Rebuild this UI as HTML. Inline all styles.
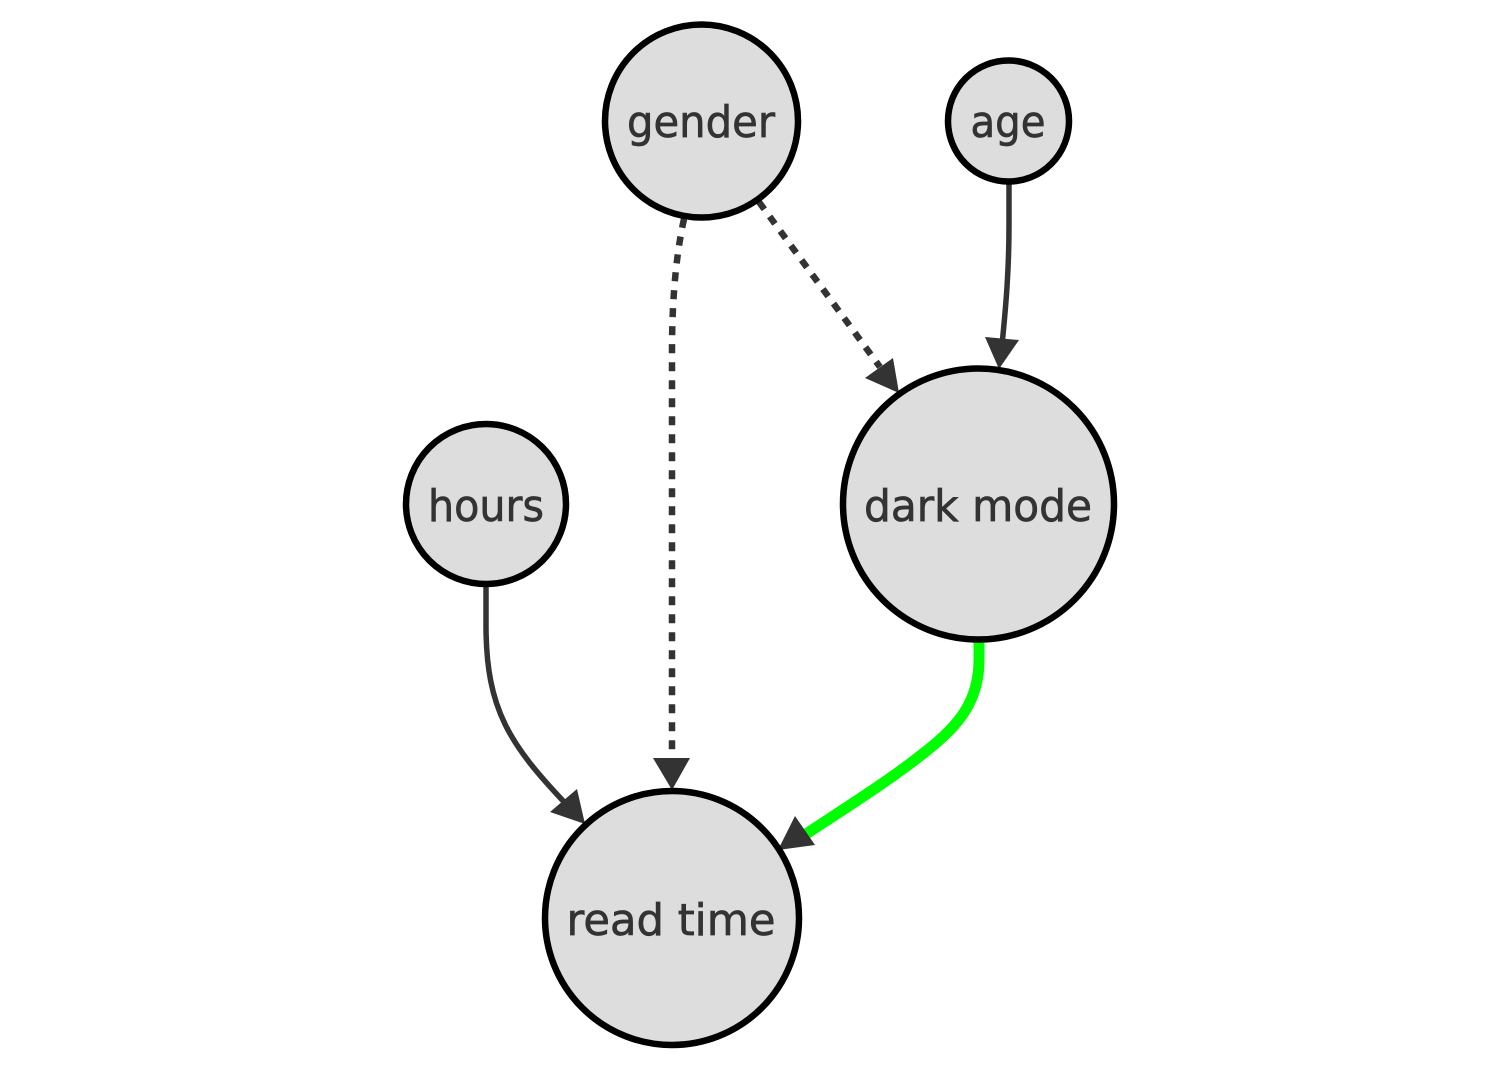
<!DOCTYPE html>
<html>
<head>
<meta charset="utf-8">
<style>
html,body{margin:0;padding:0;background:#fff;width:1500px;height:1076px;overflow:hidden}
svg{display:block}
text{font-family:"DejaVu Sans",sans-serif;font-size:44px;fill:#333;stroke:#333;stroke-width:.7;text-anchor:middle}
circle{fill:#ddd;stroke:#000;stroke-width:6.5}
path.e{fill:none;stroke:#333;stroke-width:5.5}
polygon{fill:#333}
</style>
</head>
<body>
<svg width="1500" height="1076" viewBox="0 0 1500 1076" xmlns="http://www.w3.org/2000/svg">
<path class="e" d="M684 219 C676 255 672 300 672 350 L672 765" stroke-dasharray="9 9" style="stroke-width:6.5"/>
<path class="e" d="M759 202 L880 367" stroke-dasharray="9 9" style="stroke-width:6.5"/>
<path class="e" d="M1009 182 L1009 225 C1009 270 1006 305 1002 345"/>
<path class="e" d="M486 585 L486 625 C486 710 510 745 567 805"/>
<path class="e" d="M979 642 L979 660 C979 700 960 725 925 752 C890 780 850 805 800 838" style="stroke:#0f0;stroke-width:11"/>
<polygon points="672,790 653,758 690,758"/>
<polygon points="899,393 865,378 893,358"/>
<polygon points="999,369 985,337 1019,340"/>
<polygon points="585,824 550,812 577,789"/>
<polygon points="778,850 795,816 815,845"/>
<circle cx="701.5" cy="121" r="96.5"/>
<circle cx="1008.5" cy="121" r="60.5"/>
<circle cx="486" cy="504" r="80"/>
<circle cx="978.5" cy="504" r="135.5"/>
<circle cx="672" cy="918" r="127"/>
<text x="701" y="137" textLength="148" lengthAdjust="spacingAndGlyphs">gender</text>
<text x="1008" y="137" textLength="75" lengthAdjust="spacingAndGlyphs">age</text>
<text x="486" y="521" textLength="116" lengthAdjust="spacingAndGlyphs">hours</text>
<text x="978" y="521" textLength="228" lengthAdjust="spacingAndGlyphs">dark mode</text>
<text x="671" y="935" textLength="209" lengthAdjust="spacingAndGlyphs">read time</text>
</svg>
</body>
</html>
